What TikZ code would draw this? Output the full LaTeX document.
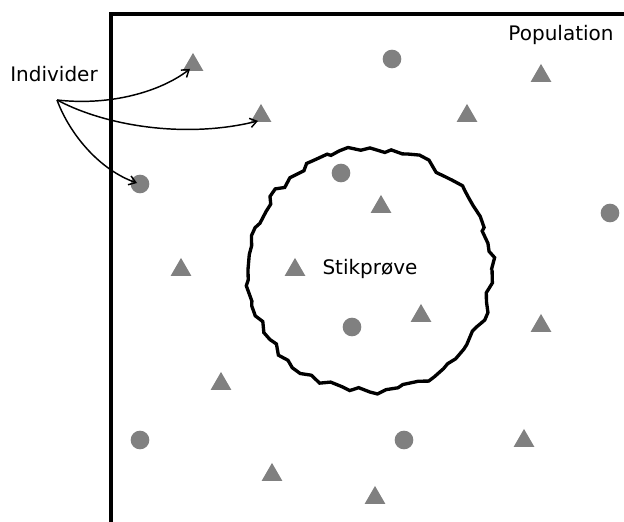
\documentclass[tikz,border=0pt]{standalone}
\usepackage{fontspec}
\setmainfont{DejaVu Sans}
\usetikzlibrary{shapes.geometric,decorations.pathmorphing,arrows.meta}
\definecolor{dotgray}{HTML}{808080}
\begin{document}
\pgfmathsetseed{4711}
\begin{tikzpicture}[x=0.75pt,y=-0.75pt,
  every node/.style={font=\fontsize{15}{18}\selectfont},
  tri/.style={regular polygon, regular polygon sides=3, fill=dotgray,
    inner sep=0pt, minimum size=18pt, yshift=-2.2pt},
  dot/.style={circle, fill=dotgray, inner sep=0pt, minimum size=14pt},
  frame/.style={line width=2.6pt},
  pointer/.style={line width=1.1pt, -{Straight Barb[length=5pt,width=7pt]}},
  blob/.style={circle, draw, line width=2.5pt, minimum size=182pt,
    decorate, decoration={random steps, segment length=7pt, amplitude=2.8pt}}]
\useasboundingbox (0,0) rectangle (624,521);

% population frame, open to the right and bottom
\coordinate (ftr) at (630,14);
\coordinate (ftl) at (111,14);
\coordinate (fbl) at (111,530);
\draw[frame] (ftr) -- (ftl) -- (fbl);

% the sample
\node[blob] (sample) at (370,270) {};
\node (stik) at (370,269) {Stikprøve};

% labels
\node (pop) at (561,35) {Population};
\node (ind) at (54,74) {Individer};

% triangles
\node[tri] (t1) at (193,62) {};
\node[tri] (t2) at (261,113) {};
\node[tri] (t3) at (541,73) {};
\node[tri] (t4) at (467,113) {};
\node[tri] (t5) at (381,204) {};
\node[tri] (t6) at (181,267) {};
\node[tri] (t7) at (295,267) {};
\node[tri] (t8) at (421,313) {};
\node[tri] (t9) at (541,323) {};
\node[tri] (t10) at (221,381) {};
\node[tri] (t11) at (524,438) {};
\node[tri] (t12) at (272,472) {};
\node[tri] (t13) at (375,495) {};

% circles
\node[dot] (c1) at (392,59) {};
\node[dot] (c2) at (140,184) {};
\node[dot] (c3) at (341,173) {};
\node[dot] (c4) at (610,213) {};
\node[dot] (c5) at (352,327) {};
\node[dot] (c6) at (140,440) {};
\node[dot] (c7) at (404,440) {};

% pointers from the label to three individuals
\coordinate (src) at (57,100);
\draw[pointer] (src) .. controls (110,106) and (160,92) .. ([shift={(-3,4)}]t1.center);
\draw[pointer] (src) .. controls (110,128) and (190,138) .. ([shift={(-3,5)}]t2.center);
\draw[pointer] (src) .. controls (70,135) and (100,170) .. ([shift={(-3,-1)}]c2.center);
\end{tikzpicture}
\end{document}
